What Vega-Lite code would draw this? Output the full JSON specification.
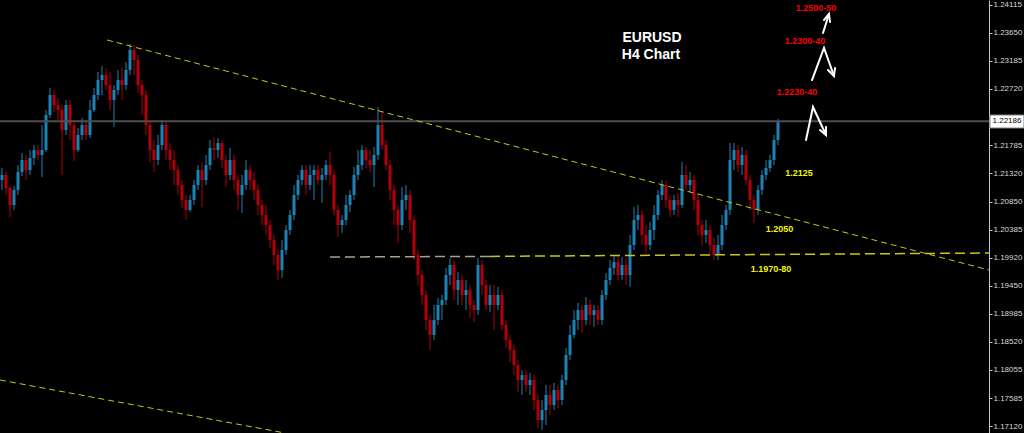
{
  "$schema": "https://vega.github.io/schema/vega-lite/v6.json",
  "width": 989,
  "height": 433,
  "autosize": {"type": "none"},
  "padding": {"left": 0, "top": 0, "right": 35, "bottom": 0},
  "background": "#000000",
  "config": {
    "view": {"stroke": null},
    "scale": {"continuousPadding": 0},
    "axis": {"grid": false}
  },
  "resolve": {"axis": {"x": "independent", "y": "independent"}},
  "datasets": {
    "candles": [
      {"t":0,"o":1.21209,"h":1.21408,"l":1.21043,"c":1.21292},
      {"t":1,"o":1.21292,"h":1.21342,"l":1.20960,"c":1.21076},
      {"t":2,"o":1.21076,"h":1.21126,"l":1.20594,"c":1.20794},
      {"t":3,"o":1.20794,"h":1.21109,"l":1.20711,"c":1.21043},
      {"t":4,"o":1.21043,"h":1.21458,"l":1.20960,"c":1.21342},
      {"t":5,"o":1.21342,"h":1.21657,"l":1.21275,"c":1.21541},
      {"t":6,"o":1.21541,"h":1.21624,"l":1.21209,"c":1.21375},
      {"t":7,"o":1.21375,"h":1.21707,"l":1.21292,"c":1.21574},
      {"t":8,"o":1.21574,"h":1.21790,"l":1.21458,"c":1.21707},
      {"t":9,"o":1.21707,"h":1.21790,"l":1.21541,"c":1.21624},
      {"t":10,"o":1.21624,"h":1.22122,"l":1.21259,"c":1.21707},
      {"t":11,"o":1.21707,"h":1.22371,"l":1.21674,"c":1.22288},
      {"t":12,"o":1.22288,"h":1.22737,"l":1.22238,"c":1.22620},
      {"t":13,"o":1.22620,"h":1.22703,"l":1.22338,"c":1.22454},
      {"t":14,"o":1.22454,"h":1.22571,"l":1.22205,"c":1.22371},
      {"t":15,"o":1.22371,"h":1.22454,"l":1.21292,"c":1.22039},
      {"t":16,"o":1.22039,"h":1.22537,"l":1.21956,"c":1.22454},
      {"t":17,"o":1.22454,"h":1.22537,"l":1.21873,"c":1.22122},
      {"t":18,"o":1.22122,"h":1.22205,"l":1.21524,"c":1.21707},
      {"t":19,"o":1.21707,"h":1.22072,"l":1.21674,"c":1.21956},
      {"t":20,"o":1.21956,"h":1.22238,"l":1.21873,"c":1.22122},
      {"t":21,"o":1.22122,"h":1.22205,"l":1.21873,"c":1.21956},
      {"t":22,"o":1.21956,"h":1.22537,"l":1.21906,"c":1.22371},
      {"t":23,"o":1.22371,"h":1.22737,"l":1.22338,"c":1.22620},
      {"t":24,"o":1.22620,"h":1.23002,"l":1.22537,"c":1.22869},
      {"t":25,"o":1.22869,"h":1.23102,"l":1.22620,"c":1.22952},
      {"t":26,"o":1.22952,"h":1.23069,"l":1.22703,"c":1.22786},
      {"t":27,"o":1.22786,"h":1.23002,"l":1.22371,"c":1.22537},
      {"t":28,"o":1.22537,"h":1.22786,"l":1.22089,"c":1.22703},
      {"t":29,"o":1.22703,"h":1.23036,"l":1.22620,"c":1.22869},
      {"t":30,"o":1.22869,"h":1.23069,"l":1.22537,"c":1.22786},
      {"t":31,"o":1.22786,"h":1.23168,"l":1.22703,"c":1.23036},
      {"t":32,"o":1.23036,"h":1.23467,"l":1.22952,"c":1.23368},
      {"t":33,"o":1.23368,"h":1.23451,"l":1.22952,"c":1.23202},
      {"t":34,"o":1.23202,"h":1.23285,"l":1.22654,"c":1.22786},
      {"t":35,"o":1.22786,"h":1.22869,"l":1.22288,"c":1.22620},
      {"t":36,"o":1.22620,"h":1.22703,"l":1.21956,"c":1.22122},
      {"t":37,"o":1.22122,"h":1.22205,"l":1.21508,"c":1.21707},
      {"t":38,"o":1.21707,"h":1.21873,"l":1.21342,"c":1.21541},
      {"t":39,"o":1.21541,"h":1.21956,"l":1.21458,"c":1.21790},
      {"t":40,"o":1.21790,"h":1.22205,"l":1.21707,"c":1.22122},
      {"t":41,"o":1.22122,"h":1.22172,"l":1.21541,"c":1.21707},
      {"t":42,"o":1.21707,"h":1.21823,"l":1.21375,"c":1.21541},
      {"t":43,"o":1.21541,"h":1.21707,"l":1.21126,"c":1.21375},
      {"t":44,"o":1.21375,"h":1.21458,"l":1.20960,"c":1.21126},
      {"t":45,"o":1.21126,"h":1.21209,"l":1.20744,"c":1.20877},
      {"t":46,"o":1.20877,"h":1.20960,"l":1.20544,"c":1.20711},
      {"t":47,"o":1.20711,"h":1.20960,"l":1.20677,"c":1.20877},
      {"t":48,"o":1.20877,"h":1.21209,"l":1.20794,"c":1.21126},
      {"t":49,"o":1.21126,"h":1.21458,"l":1.21043,"c":1.21375},
      {"t":50,"o":1.21375,"h":1.21508,"l":1.20760,"c":1.21209},
      {"t":51,"o":1.21209,"h":1.21624,"l":1.21126,"c":1.21458},
      {"t":52,"o":1.21458,"h":1.21873,"l":1.21375,"c":1.21740},
      {"t":53,"o":1.21740,"h":1.21923,"l":1.21541,"c":1.21707},
      {"t":54,"o":1.21707,"h":1.21906,"l":1.21574,"c":1.21823},
      {"t":55,"o":1.21823,"h":1.21873,"l":1.21408,"c":1.21541},
      {"t":56,"o":1.21541,"h":1.21624,"l":1.21092,"c":1.21292},
      {"t":57,"o":1.21292,"h":1.21740,"l":1.21209,"c":1.21541},
      {"t":58,"o":1.21541,"h":1.21624,"l":1.21043,"c":1.21209},
      {"t":59,"o":1.21209,"h":1.21292,"l":1.20711,"c":1.20960},
      {"t":60,"o":1.20960,"h":1.21292,"l":1.20661,"c":1.21126},
      {"t":61,"o":1.21126,"h":1.21541,"l":1.21043,"c":1.21375},
      {"t":62,"o":1.21375,"h":1.21458,"l":1.21043,"c":1.21209},
      {"t":63,"o":1.21209,"h":1.21342,"l":1.20877,"c":1.21043},
      {"t":64,"o":1.21043,"h":1.21126,"l":1.20627,"c":1.20794},
      {"t":65,"o":1.20794,"h":1.20877,"l":1.20461,"c":1.20627},
      {"t":66,"o":1.20627,"h":1.20794,"l":1.20295,"c":1.20461},
      {"t":67,"o":1.20461,"h":1.20544,"l":1.20079,"c":1.20212},
      {"t":68,"o":1.20212,"h":1.20295,"l":1.19797,"c":1.19963},
      {"t":69,"o":1.19963,"h":1.20046,"l":1.19548,"c":1.19714},
      {"t":70,"o":1.19714,"h":1.20212,"l":1.19581,"c":1.20046},
      {"t":71,"o":1.20046,"h":1.20461,"l":1.19963,"c":1.20378},
      {"t":72,"o":1.20378,"h":1.20711,"l":1.20295,"c":1.20627},
      {"t":73,"o":1.20627,"h":1.21126,"l":1.20544,"c":1.20960},
      {"t":74,"o":1.20960,"h":1.21292,"l":1.20877,"c":1.21209},
      {"t":75,"o":1.21209,"h":1.21458,"l":1.21126,"c":1.21375},
      {"t":76,"o":1.21375,"h":1.21458,"l":1.20960,"c":1.21126},
      {"t":77,"o":1.21126,"h":1.21458,"l":1.21043,"c":1.21292},
      {"t":78,"o":1.21292,"h":1.21458,"l":1.20877,"c":1.21375},
      {"t":79,"o":1.21375,"h":1.21458,"l":1.21126,"c":1.21209},
      {"t":80,"o":1.21209,"h":1.21408,"l":1.20827,"c":1.21292},
      {"t":81,"o":1.21292,"h":1.21541,"l":1.21209,"c":1.21458},
      {"t":82,"o":1.21458,"h":1.21674,"l":1.21126,"c":1.21292},
      {"t":83,"o":1.21292,"h":1.21375,"l":1.20627,"c":1.20711},
      {"t":84,"o":1.20711,"h":1.20794,"l":1.20262,"c":1.20461},
      {"t":85,"o":1.20461,"h":1.20627,"l":1.20329,"c":1.20544},
      {"t":86,"o":1.20544,"h":1.20960,"l":1.20461,"c":1.20794},
      {"t":87,"o":1.20794,"h":1.21043,"l":1.20677,"c":1.20960},
      {"t":88,"o":1.20960,"h":1.21425,"l":1.20877,"c":1.21292},
      {"t":89,"o":1.21292,"h":1.21707,"l":1.21209,"c":1.21458},
      {"t":90,"o":1.21458,"h":1.21790,"l":1.21375,"c":1.21707},
      {"t":91,"o":1.21707,"h":1.21757,"l":1.21408,"c":1.21541},
      {"t":92,"o":1.21541,"h":1.21707,"l":1.21342,"c":1.21458},
      {"t":93,"o":1.21458,"h":1.21757,"l":1.21092,"c":1.21624},
      {"t":94,"o":1.21624,"h":1.22421,"l":1.21541,"c":1.22122},
      {"t":95,"o":1.22122,"h":1.22338,"l":1.21707,"c":1.21790},
      {"t":96,"o":1.21790,"h":1.21873,"l":1.21375,"c":1.21458},
      {"t":97,"o":1.21458,"h":1.21541,"l":1.20877,"c":1.21043},
      {"t":98,"o":1.21043,"h":1.21126,"l":1.20461,"c":1.20711},
      {"t":99,"o":1.20711,"h":1.20794,"l":1.20162,"c":1.20461},
      {"t":100,"o":1.20461,"h":1.21092,"l":1.20378,"c":1.20877},
      {"t":101,"o":1.20877,"h":1.21126,"l":1.20711,"c":1.20960},
      {"t":102,"o":1.20960,"h":1.21043,"l":1.20329,"c":1.20544},
      {"t":103,"o":1.20544,"h":1.20627,"l":1.19880,"c":1.19963},
      {"t":104,"o":1.19963,"h":1.20046,"l":1.19465,"c":1.19631},
      {"t":105,"o":1.19631,"h":1.19714,"l":1.19133,"c":1.19299},
      {"t":106,"o":1.19299,"h":1.19382,"l":1.18718,"c":1.18884},
      {"t":107,"o":1.18884,"h":1.18967,"l":1.18386,"c":1.18635},
      {"t":108,"o":1.18635,"h":1.19133,"l":1.18552,"c":1.18884},
      {"t":109,"o":1.18884,"h":1.19249,"l":1.18801,"c":1.19133},
      {"t":110,"o":1.19133,"h":1.19299,"l":1.18884,"c":1.19216},
      {"t":111,"o":1.19216,"h":1.19747,"l":1.19133,"c":1.19631},
      {"t":112,"o":1.19631,"h":1.19913,"l":1.19465,"c":1.19797},
      {"t":113,"o":1.19797,"h":1.19880,"l":1.19216,"c":1.19382},
      {"t":114,"o":1.19382,"h":1.19681,"l":1.19133,"c":1.19548},
      {"t":115,"o":1.19548,"h":1.19631,"l":1.19133,"c":1.19299},
      {"t":116,"o":1.19299,"h":1.19548,"l":1.19050,"c":1.19382},
      {"t":117,"o":1.19382,"h":1.19465,"l":1.18917,"c":1.19133},
      {"t":118,"o":1.19133,"h":1.19216,"l":1.18851,"c":1.19050},
      {"t":119,"o":1.19050,"h":1.19913,"l":1.18967,"c":1.19797},
      {"t":120,"o":1.19797,"h":1.19880,"l":1.19299,"c":1.19465},
      {"t":121,"o":1.19465,"h":1.19548,"l":1.19050,"c":1.19133},
      {"t":122,"o":1.19133,"h":1.19465,"l":1.19017,"c":1.19299},
      {"t":123,"o":1.19299,"h":1.19465,"l":1.18718,"c":1.19133},
      {"t":124,"o":1.19133,"h":1.19432,"l":1.19050,"c":1.19299},
      {"t":125,"o":1.19299,"h":1.19382,"l":1.18718,"c":1.18801},
      {"t":126,"o":1.18801,"h":1.18884,"l":1.18419,"c":1.18552},
      {"t":127,"o":1.18552,"h":1.18635,"l":1.18186,"c":1.18386},
      {"t":128,"o":1.18386,"h":1.18469,"l":1.17970,"c":1.18136},
      {"t":129,"o":1.18136,"h":1.18219,"l":1.17688,"c":1.17887},
      {"t":130,"o":1.17887,"h":1.18053,"l":1.17638,"c":1.17970},
      {"t":131,"o":1.17970,"h":1.18053,"l":1.17688,"c":1.17804},
      {"t":132,"o":1.17804,"h":1.18004,"l":1.17638,"c":1.17887},
      {"t":133,"o":1.17887,"h":1.17970,"l":1.17389,"c":1.17555},
      {"t":134,"o":1.17555,"h":1.17638,"l":1.17090,"c":1.17223},
      {"t":135,"o":1.17223,"h":1.17555,"l":1.17057,"c":1.17389},
      {"t":136,"o":1.17389,"h":1.17804,"l":1.17140,"c":1.17638},
      {"t":137,"o":1.17638,"h":1.17804,"l":1.17306,"c":1.17472},
      {"t":138,"o":1.17472,"h":1.17837,"l":1.17389,"c":1.17721},
      {"t":139,"o":1.17721,"h":1.17804,"l":1.17422,"c":1.17555},
      {"t":140,"o":1.17555,"h":1.17970,"l":1.17472,"c":1.17887},
      {"t":141,"o":1.17887,"h":1.18419,"l":1.17804,"c":1.18303},
      {"t":142,"o":1.18303,"h":1.18801,"l":1.18219,"c":1.18635},
      {"t":143,"o":1.18635,"h":1.19050,"l":1.18585,"c":1.18884},
      {"t":144,"o":1.18884,"h":1.19166,"l":1.18718,"c":1.19050},
      {"t":145,"o":1.19050,"h":1.19133,"l":1.18668,"c":1.18884},
      {"t":146,"o":1.18884,"h":1.19266,"l":1.18801,"c":1.19133},
      {"t":147,"o":1.19133,"h":1.19216,"l":1.18801,"c":1.18967},
      {"t":148,"o":1.18967,"h":1.19133,"l":1.18768,"c":1.19050},
      {"t":149,"o":1.19050,"h":1.19133,"l":1.18801,"c":1.18884},
      {"t":150,"o":1.18884,"h":1.19382,"l":1.18801,"c":1.19299},
      {"t":151,"o":1.19299,"h":1.19664,"l":1.19216,"c":1.19548},
      {"t":152,"o":1.19548,"h":1.19880,"l":1.19465,"c":1.19747},
      {"t":153,"o":1.19747,"h":1.19963,"l":1.19631,"c":1.19847},
      {"t":154,"o":1.19847,"h":1.19947,"l":1.19548,"c":1.19631},
      {"t":155,"o":1.19631,"h":1.19930,"l":1.19548,"c":1.19797},
      {"t":156,"o":1.19797,"h":1.19913,"l":1.19465,"c":1.19631},
      {"t":157,"o":1.19631,"h":1.20295,"l":1.19432,"c":1.20129},
      {"t":158,"o":1.20129,"h":1.20760,"l":1.20046,"c":1.20544},
      {"t":159,"o":1.20544,"h":1.20794,"l":1.20378,"c":1.20627},
      {"t":160,"o":1.20627,"h":1.20711,"l":1.20129,"c":1.20295},
      {"t":161,"o":1.20295,"h":1.20461,"l":1.19996,"c":1.20129},
      {"t":162,"o":1.20129,"h":1.20511,"l":1.20046,"c":1.20378},
      {"t":163,"o":1.20378,"h":1.20794,"l":1.20212,"c":1.20627},
      {"t":164,"o":1.20627,"h":1.21043,"l":1.20544,"c":1.20960},
      {"t":165,"o":1.20960,"h":1.21209,"l":1.20877,"c":1.21126},
      {"t":166,"o":1.21126,"h":1.21209,"l":1.20744,"c":1.20877},
      {"t":167,"o":1.20877,"h":1.20960,"l":1.20594,"c":1.20711},
      {"t":168,"o":1.20711,"h":1.20960,"l":1.20627,"c":1.20877},
      {"t":169,"o":1.20877,"h":1.20993,"l":1.20594,"c":1.20794},
      {"t":170,"o":1.20794,"h":1.21508,"l":1.20744,"c":1.21292},
      {"t":171,"o":1.21292,"h":1.21458,"l":1.21043,"c":1.21126},
      {"t":172,"o":1.21126,"h":1.21342,"l":1.21009,"c":1.21209},
      {"t":173,"o":1.21209,"h":1.21292,"l":1.20711,"c":1.20877},
      {"t":174,"o":1.20877,"h":1.20960,"l":1.20295,"c":1.20461},
      {"t":175,"o":1.20461,"h":1.20544,"l":1.20129,"c":1.20295},
      {"t":176,"o":1.20295,"h":1.20544,"l":1.20162,"c":1.20378},
      {"t":177,"o":1.20378,"h":1.20461,"l":1.19963,"c":1.20129},
      {"t":178,"o":1.20129,"h":1.20246,"l":1.19880,"c":1.19963},
      {"t":179,"o":1.19963,"h":1.20295,"l":1.19880,"c":1.20129},
      {"t":180,"o":1.20129,"h":1.20627,"l":1.20046,"c":1.20461},
      {"t":181,"o":1.20461,"h":1.20794,"l":1.20378,"c":1.20711},
      {"t":182,"o":1.20711,"h":1.21823,"l":1.20627,"c":1.21541},
      {"t":183,"o":1.21541,"h":1.21823,"l":1.21375,"c":1.21707},
      {"t":184,"o":1.21707,"h":1.21790,"l":1.21342,"c":1.21458},
      {"t":185,"o":1.21458,"h":1.21757,"l":1.21292,"c":1.21624},
      {"t":186,"o":1.21624,"h":1.21707,"l":1.21126,"c":1.21209},
      {"t":187,"o":1.21209,"h":1.21292,"l":1.20711,"c":1.20877},
      {"t":188,"o":1.20877,"h":1.20960,"l":1.20495,"c":1.20711},
      {"t":189,"o":1.20711,"h":1.21126,"l":1.20627,"c":1.21043},
      {"t":190,"o":1.21043,"h":1.21375,"l":1.20960,"c":1.21292},
      {"t":191,"o":1.21292,"h":1.21541,"l":1.21209,"c":1.21408},
      {"t":192,"o":1.21408,"h":1.21624,"l":1.21342,"c":1.21541},
      {"t":193,"o":1.21541,"h":1.21956,"l":1.21458,"c":1.21873},
      {"t":194,"o":1.21873,"h":1.22222,"l":1.21790,"c":1.22186}
    ],
    "trend": [
      {"t":26.25,"p":1.23534},
      {"t":246.75,"p":1.19714}
    ],
    "lowtrend": [
      {"t":-0.5,"p":1.17887},
      {"t":70.75,"p":1.17007}
    ],
    "supportGrey": [
      {"t":82,"p":1.19930},
      {"t":122,"p":1.19940}
    ],
    "supportYellow": [
      {"t":122,"p":1.19940},
      {"t":246.75,"p":1.19996}
    ],
    "priceLine": [
      {"t":-0.5,"p":1.22186},
      {"t":246.75,"p":1.22186}
    ],
    "ticks": [
      {"p":1.24115},{"p":1.2365},{"p":1.23185},{"p":1.2272},{"p":1.2225},{"p":1.21785},{"p":1.2132},{"p":1.2085},
      {"p":1.20385},{"p":1.1992},{"p":1.1945},{"p":1.18985},{"p":1.1852},{"p":1.18055},{"p":1.17585},{"p":1.1712}
    ],
    "arrows": [
      {"seg":"a1","k":0,"t":205.25,"p":1.23650},
      {"seg":"a1","k":1,"t":206.75,"p":1.23966},
      {"seg":"a1h","k":0,"t":205.5,"p":1.23866},
      {"seg":"a1h","k":1,"t":206.75,"p":1.23966},
      {"seg":"a1h","k":2,"t":207,"p":1.23833},
      {"seg":"a2","k":0,"t":202.5,"p":1.22869},
      {"seg":"a2","k":1,"t":205.5,"p":1.23401},
      {"seg":"a2","k":2,"t":208,"p":1.22936},
      {"seg":"a2h","k":0,"t":208.25,"p":1.23069},
      {"seg":"a2h","k":1,"t":208,"p":1.22936},
      {"seg":"a2h","k":2,"t":206.5,"p":1.23036},
      {"seg":"a3","k":0,"t":201,"p":1.21873},
      {"seg":"a3","k":1,"t":202.75,"p":1.22421},
      {"seg":"a3","k":2,"t":206,"p":1.21956},
      {"seg":"a3h","k":0,"t":206,"p":1.22089},
      {"seg":"a3h","k":1,"t":206,"p":1.21956},
      {"seg":"a3h","k":2,"t":204.5,"p":1.22039}
    ],
    "titles": [
      {"label":"EURUSD","t":162.5,"p":1.23567},
      {"label":"H4 Chart","t":162.25,"p":1.23285}
    ],
    "redLabels": [
      {"label":"1.2500-50","t":203.5,"p":1.24073},
      {"label":"1.2300-40","t":200.75,"p":1.23525},
      {"label":"1.2230-40","t":198.75,"p":1.22670}
    ],
    "yellowLabels": [
      {"label":"1.2125","t":199.25,"p":1.21325},
      {"label":"1.2050","t":194.4,"p":1.20395},
      {"label":"1.1970-80","t":192.25,"p":1.19731}
    ],
    "priceBox": [
      {"label":"1.22186","t1":247,"t2":255.5,"tm":251.25,"p1":1.22288,"p2":1.22072,"p":1.22186}
    ]
  },
  "layer": [
    {
      "data": {"name": "ticks"},
      "mark": {"type": "point", "opacity": 0},
      "encoding": {
        "x": {"datum": 0, "type": "quantitative", "axis": null, "scale": {"domain": [-0.5, 246.75], "nice": false, "zero": false, "padding": 0}},
        "y": {"field": "p", "type": "quantitative", "title": null, "scale": {"domain": [1.17007, 1.24198], "nice": false, "zero": false, "padding": 0},
          "axis": {
            "orient": "right",
            "values": [1.24115, 1.2365, 1.23185, 1.2272, 1.2225, 1.21785, 1.2132, 1.2085, 1.20385, 1.1992, 1.1945, 1.18985, 1.1852, 1.18055, 1.17585, 1.1712],
            "format": ".5f",
            "domain": true,
            "domainColor": "#c8c8c8",
            "domainWidth": 1,
            "ticks": true,
            "tickColor": "#c8c8c8",
            "tickSize": 3,
            "labelColor": "#d8d8d8",
            "labelFont": "Liberation Sans",
            "labelFontSize": 8,
            "labelPadding": 1,
            "labelOverlap": false,
            "labelFlush": false,
            "labelBound": false
          }
        }
      }
    },
    {
      "data": {"name": "candles"},
      "mark": {"type": "rule", "strokeWidth": 1},
      "encoding": {
        "x": {"field": "t", "type": "quantitative", "axis": null},
        "y": {"field": "l", "type": "quantitative", "axis": null},
        "y2": {"field": "h"},
        "color": {"condition": {"test": "datum.c >= datum.o", "value": "#1c82b4"}, "value": "#b0000a"}
      }
    },
    {
      "data": {"name": "candles"},
      "mark": {"type": "bar", "width": 3},
      "encoding": {
        "x": {"field": "t", "type": "quantitative", "axis": null},
        "y": {"field": "o", "type": "quantitative", "axis": null},
        "y2": {"field": "c"},
        "color": {"condition": {"test": "datum.c >= datum.o", "value": "#1c82b4"}, "value": "#b0000a"}
      }
    },
    {
      "data": {"name": "priceLine"},
      "mark": {"type": "line", "color": "#4e4e4e", "strokeWidth": 2},
      "encoding": {
        "x": {"field": "t", "type": "quantitative", "axis": null},
        "y": {"field": "p", "type": "quantitative", "axis": null}
      }
    },
    {
      "data": {"name": "trend"},
      "mark": {"type": "line", "color": "#c8c814", "strokeWidth": 1, "strokeDash": [6, 4]},
      "encoding": {
        "x": {"field": "t", "type": "quantitative", "axis": null},
        "y": {"field": "p", "type": "quantitative", "axis": null}
      }
    },
    {
      "data": {"name": "lowtrend"},
      "mark": {"type": "line", "color": "#c8c814", "strokeWidth": 1, "strokeDash": [6, 4]},
      "encoding": {
        "x": {"field": "t", "type": "quantitative", "axis": null},
        "y": {"field": "p", "type": "quantitative", "axis": null}
      }
    },
    {
      "data": {"name": "supportGrey"},
      "mark": {"type": "line", "color": "#a4a48c", "strokeWidth": 1.5, "strokeDash": [10, 5]},
      "encoding": {
        "x": {"field": "t", "type": "quantitative", "axis": null},
        "y": {"field": "p", "type": "quantitative", "axis": null}
      }
    },
    {
      "data": {"name": "supportYellow"},
      "mark": {"type": "line", "color": "#c8c814", "strokeWidth": 1.5, "strokeDash": [10, 5]},
      "encoding": {
        "x": {"field": "t", "type": "quantitative", "axis": null},
        "y": {"field": "p", "type": "quantitative", "axis": null}
      }
    },
    {
      "data": {"name": "arrows"},
      "mark": {"type": "line", "color": "#ffffff", "strokeWidth": 2, "strokeCap": "round"},
      "encoding": {
        "x": {"field": "t", "type": "quantitative", "axis": null},
        "y": {"field": "p", "type": "quantitative", "axis": null},
        "detail": {"field": "seg", "type": "nominal"},
        "order": {"field": "k", "type": "quantitative"}
      }
    },
    {
      "data": {"name": "titles"},
      "mark": {"type": "text", "color": "#ffffff", "font": "Liberation Sans", "fontWeight": "bold", "fontSize": 14, "align": "center", "baseline": "middle"},
      "encoding": {
        "x": {"field": "t", "type": "quantitative", "axis": null},
        "y": {"field": "p", "type": "quantitative", "axis": null},
        "text": {"field": "label", "type": "nominal"}
      }
    },
    {
      "data": {"name": "redLabels"},
      "mark": {"type": "text", "color": "#ff0000", "font": "Liberation Sans", "fontWeight": "bold", "fontSize": 9, "align": "center", "baseline": "middle"},
      "encoding": {
        "x": {"field": "t", "type": "quantitative", "axis": null},
        "y": {"field": "p", "type": "quantitative", "axis": null},
        "text": {"field": "label", "type": "nominal"}
      }
    },
    {
      "data": {"name": "yellowLabels"},
      "mark": {"type": "text", "color": "#f5f500", "font": "Liberation Sans", "fontWeight": "bold", "fontSize": 9, "align": "center", "baseline": "middle"},
      "encoding": {
        "x": {"field": "t", "type": "quantitative", "axis": null},
        "y": {"field": "p", "type": "quantitative", "axis": null},
        "text": {"field": "label", "type": "nominal"}
      }
    },
    {
      "data": {"name": "priceBox"},
      "mark": {"type": "rect", "color": "#ffffff", "stroke": "#808080", "strokeWidth": 1},
      "encoding": {
        "x": {"field": "t1", "type": "quantitative", "axis": null},
        "x2": {"field": "t2"},
        "y": {"field": "p1", "type": "quantitative", "axis": null},
        "y2": {"field": "p2"}
      }
    },
    {
      "data": {"name": "priceBox"},
      "mark": {"type": "text", "color": "#000000", "font": "Liberation Sans", "fontSize": 8, "align": "center", "baseline": "middle"},
      "encoding": {
        "x": {"field": "tm", "type": "quantitative", "axis": null},
        "y": {"field": "p", "type": "quantitative", "axis": null},
        "text": {"field": "label", "type": "nominal"}
      }
    }
  ]
}
